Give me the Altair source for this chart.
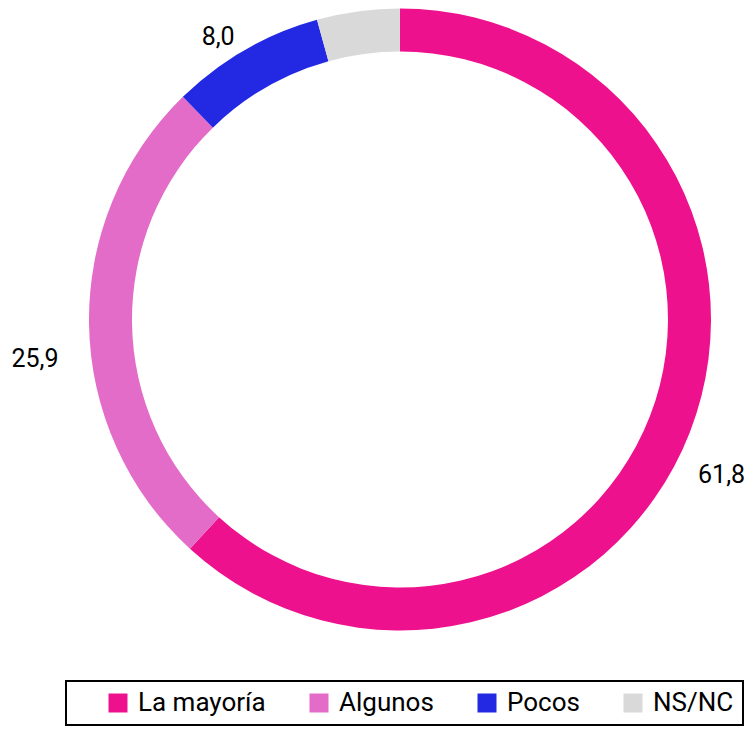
import altair as alt
import pandas as pd

categories = ["La mayoría", "Algunos", "Pocos", "NS/NC"]
values = [61.8, 25.9, 8.0, 4.3]
labels = ["61,8", "25,9", "8,0", ""]
order = [0, 1, 2, 3]
colors = ["#EE118E", "#E36CC8", "#2329E3", "#D9D9D9"]

df = pd.DataFrame({"cat": categories, "value": values, "label": labels, "order": order})
total = sum(values)

CX, CY = 392, 311.5
theta_scale = alt.Scale(domain=[0, total])

legend = alt.Legend(
    title=" ",
    titleOrient="left",
    titleFontSize=1,
    titlePadding=30,
    orient="none",
    legendX=58,
    legendY=673,
    direction="horizontal",
    symbolType="square",
    symbolSize=361,
    symbolStrokeWidth=0,
    labelFontSize=26,
    labelFont="Roboto",
    labelColor="black",
    labelOffset=7,
    labelLimit=300,
    columnPadding=40,
    strokeColor="black",
    padding=9,
)

arcs = alt.Chart(df).mark_arc(outerRadius=311, innerRadius=268, x=CX, y=CY).encode(
    theta=alt.Theta("value:Q", stack=True, scale=theta_scale),
    order=alt.Order("order:Q"),
    color=alt.Color(
        "cat:N",
        scale=alt.Scale(domain=categories, range=colors),
        sort=categories,
        legend=legend,
    ),
)

label_base = (
    alt.Chart(df)
    .transform_window(cum="sum(value)", sort=[alt.SortField("order")])
    .transform_calculate(mid="datum.cum - datum.value / 2")
    .encode(
        theta=alt.Theta("mid:Q", stack=None, scale=theta_scale),
        text="label:N",
    )
)

text_right = label_base.transform_filter(f"datum.mid <= {total / 2}").mark_text(
    radius=345, dy=31, x=CX, y=CY, fontSize=25, font="Roboto", color="black"
)
text_left = label_base.transform_filter(f"datum.mid > {total / 2}").mark_text(
    radius=365, dy=34, x=CX, y=CY, fontSize=25, font="Roboto", color="black"
)

chart = (
    alt.layer(arcs, text_right, text_left)
    .properties(width=737, height=718, autosize=alt.AutoSizeParams(type="none"), padding=0)
    .configure_view(strokeWidth=0)
    .configure_legend(strokeWidth=2)
)

chart.save("out.html", embed_options={"renderer": "svg", "actions": False})
